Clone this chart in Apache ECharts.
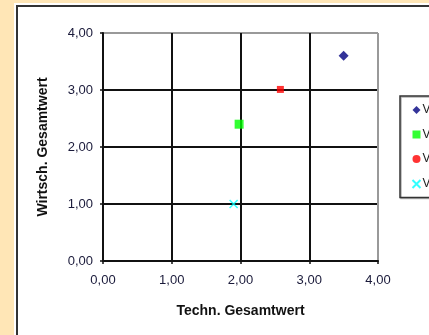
<!DOCTYPE html>
<html><head><meta charset="utf-8">
<script src="https://cdn.jsdelivr.net/npm/echarts@6/dist/echarts.min.js"></script>
<style>html,body{margin:0;padding:0;background:#FFE6B6;}#c{width:429px;height:335px;}</style>
</head><body><div id="c"></div>
<script>
const seriesNames = ['Variante 1', 'Variante 2', 'Variante 3', 'Variante 4'];
const techValues = [3.50, 1.98, 2.58, 1.90];
const wirtValues = [3.60, 2.40, 3.01, 1.00];
const xTicks = [0, 1, 2, 3, 4];
const yTicks = [0, 1, 2, 3, 4];
const colors = ['#000080', '#00FF00', '#FF0000', '#00FFFF'];
const symbols = ['diamond', 'rect', 'rect', 'path://M0,0L10,10M10,0L0,10'];
const sizes = [10, 9, 7, 8];

const fmt = v => v.toFixed(2).replace('.', ',');
const chart = echarts.init(document.getElementById('c'));
const lineColors = ['#111', '#111', '#111', '#111', '#999'];
chart.setOption({
  backgroundColor: '#FFE6B6',
  animation: false,
  graphic: [
    {type: 'rect', shape: {x: 14, y: 3, width: 500, height: 400}, style: {fill: '#fff'}, z: -10},
    {type: 'rect', shape: {x: 17, y: 6, width: 500, height: 400}, style: {fill: '#fff', stroke: '#333', lineWidth: 2}, z: -9}
  ],
  grid: {left: 103, top: 33, width: 275, height: 228},
  xAxis: {
    type: 'value', min: 0, max: 4, interval: 1,
    name: 'Techn. Gesamtwert', nameLocation: 'middle', nameGap: 43,
    nameTextStyle: {fontFamily: 'Liberation Sans', fontWeight: 'bold', fontSize: 14, color: '#111'},
    axisLine: {show: true, lineStyle: {color: '#111', width: 2}},
    axisTick: {show: true, length: 3, lineStyle: {color: '#111', width: 1.5}},
    axisLabel: {formatter: fmt, margin: 13, fontFamily: 'Liberation Sans', fontSize: 13, color: '#1a1a3a'},
    splitLine: {show: true, lineStyle: {color: lineColors, width: 2}}
  },
  yAxis: {
    type: 'value', min: 0, max: 4, interval: 1,
    name: 'Wirtsch. Gesamtwert', nameLocation: 'middle', nameGap: 53,
    nameTextStyle: {fontFamily: 'Liberation Sans', fontWeight: 'bold', fontSize: 14, color: '#111'},
    axisLine: {show: true, lineStyle: {color: '#111', width: 2}},
    axisTick: {show: true, length: 3, lineStyle: {color: '#111', width: 1.5}},
    axisLabel: {formatter: fmt, margin: 10, fontFamily: 'Liberation Sans', fontSize: 13, color: '#1a1a3a'},
    splitLine: {show: true, lineStyle: {color: lineColors, width: 2}}
  },
  legend: {
    orient: 'vertical', left: 400, top: 96,
    itemWidth: 8, itemHeight: 8, itemGap: 12.5,
    padding: [8, 6, 7, 10],
    borderColor: '#333', borderWidth: 1.5,
    shadowColor: 'rgba(0,0,0,0.3)', shadowOffsetX: 1, shadowOffsetY: 1,
    textStyle: {fontFamily: 'Liberation Sans', fontSize: 12, color: '#222', padding: [0, 0, 0, -3]},
    data: seriesNames.map((n, i) => ({name: n, icon: i === 2 ? 'circle' : symbols[i]}))
  },
  series: seriesNames.map((n, i) => ({
    name: n, type: 'scatter',
    data: [[techValues[i], wirtValues[i]]],
    symbol: symbols[i], symbolSize: sizes[i],
    itemStyle: i === 3 ? {color: 'none', borderColor: colors[i], borderWidth: 1.5} : {color: colors[i]},
    z: 5
  }))
});
</script></body></html>
